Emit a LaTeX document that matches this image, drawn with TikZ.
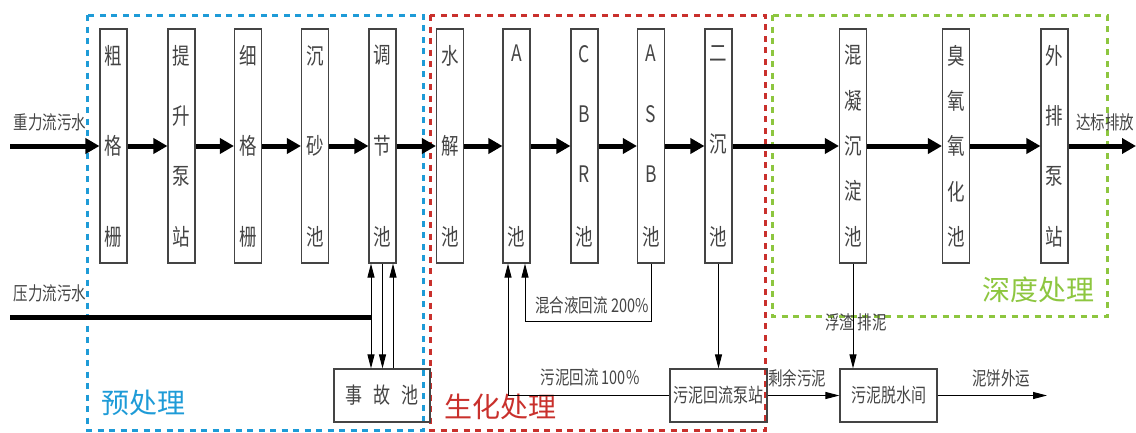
\documentclass[tikz,border=0pt]{standalone}
\usepackage{fontspec}
\setmainfont{Noto Sans CJK SC}
\usetikzlibrary{arrows.meta}
\definecolor{preblue}{HTML}{1E9BD7}
\definecolor{biored}{HTML}{C9302C}
\definecolor{deepgreen}{HTML}{8DC63F}
\definecolor{inkgray}{HTML}{444444}
\newcommand\tallt[1]{\scalebox{1}[1.3]{#1}}
\newcommand\vc[1]{\hbox to 24pt{\hss\tallt{#1}\hss}}
\begin{document}
\begin{tikzpicture}[x=1pt,y=-1pt,
  unitbox/.style={draw=inkgray,line width=1.1pt,minimum width=27pt,minimum height=234pt,inner sep=0pt,
    font=\fontsize{17.5}{17.5}\selectfont,text=inkgray},
  lowbox/.style={draw=inkgray,line width=1.1pt,minimum width=97pt,minimum height=53pt,inner sep=0pt,
    font=\fontsize{15}{15}\selectfont,text=inkgray},
  lbl/.style={font=\fontsize{14.5}{14.5}\selectfont,text=inkgray,inner sep=0pt},
  sect/.style={font=\fontsize{28}{28}\selectfont,inner sep=0pt},
  heavy/.style={line width=5pt,black,-{Triangle[length=14pt,width=15pt]}},
  heavyline/.style={line width=5pt,black},
  thinarrow/.style={line width=1pt,black,-{Triangle[length=14pt,width=7pt]}},
  zone/.style={line width=3pt,dash pattern=on 6pt off 5.5pt}
]
\useasboundingbox (0,0) rectangle (1136,432);

% zones
\draw[zone,preblue] (87,15) rectangle (423,430);
\draw[zone,biored] (430,15) rectangle (765,430);
\draw[zone,deepgreen] (772,15) rectangle (1107,316);

% unit boxes
\def\vtxt#1{\vbox to 200pt{#1}}
\node[unitbox] (b1) at (113.5,146) {\vtxt{\vc{粗}\vfill\vc{格}\vfill\vc{栅}}};
\node[unitbox] (b2) at (181.5,146) {\vtxt{\vc{提}\vfill\vc{升}\vfill\vc{泵}\vfill\vc{站}}};
\node[unitbox] (b3) at (248,146) {\vtxt{\vc{细}\vfill\vc{格}\vfill\vc{栅}}};
\node[unitbox] (b4) at (315,146) {\vtxt{\vc{沉}\vfill\vc{砂}\vfill\vc{池}}};
\node[unitbox] (b5) at (382.5,146) {\vtxt{\vc{调}\vfill\vc{节}\vfill\vc{池}}};
\node[unitbox] (b6) at (450,146) {\vtxt{\vc{水}\vfill\vc{解}\vfill\vc{池}}};
\node[unitbox] (b7) at (516.5,146) {\vtxt{\vc{A}\vfill\vc{池}}};
\node[unitbox] (b8) at (584.5,146) {\vtxt{\vc{C}\vfill\vc{B}\vfill\vc{R}\vfill\vc{池}}};
\node[unitbox] (b9) at (651,146) {\vtxt{\vc{A}\vfill\vc{S}\vfill\vc{B}\vfill\vc{池}}};
\node[unitbox] (b10) at (718.5,146) {\vtxt{\vc{二}\vfill\vc{沉}\vfill\vc{池}}};
\node[unitbox] (b11) at (853,146) {\vtxt{\vc{混}\vfill\vc{凝}\vfill\vc{沉}\vfill\vc{淀}\vfill\vc{池}}};
\node[unitbox] (b12) at (956,146) {\vtxt{\vc{臭}\vfill\vc{氧}\vfill\vc{氧}\vfill\vc{化}\vfill\vc{池}}};
\node[unitbox] (b13) at (1054.5,146) {\vtxt{\vc{外}\vfill\vc{排}\vfill\vc{泵}\vfill\vc{站}}};

% lower boxes
\node[lowbox,minimum width=96pt,font=\fontsize{17}{17}\selectfont] (acc) at (382,395.5) {\tallt{事\hspace{11pt}故\hspace{11pt}池}};
\node[lowbox] (pump) at (718.5,395.5) {\tallt{污泥回流泵站}};
\node[lowbox] (dew) at (888.5,395.5) {\tallt{污泥脱水间}};

% labels
\node[lbl] (tin1) at (50,122) {\tallt{重力流污水}};
\node[lbl] (tin2) at (50,293) {\tallt{压力流污水}};
\node[lbl] (tout) at (1105,122) {\tallt{达标排放}};
\node[lbl] (tmix) at (592,305) {\tallt{混合液回流 200\%}};
\node[lbl] (tret) at (590,377) {\tallt{污泥回流 100\%}};
\node[lbl] (tsur) at (797,378) {\tallt{剩余污泥}};
\node[lbl] (tscum) at (856,322) {\tallt{浮渣 排泥}};
\node[lbl] (tcake) at (1001,378) {\tallt{泥饼外运}};
\node[sect,text=preblue] (spre) at (143,403) {预处理};
\node[sect,text=biored] (sbio) at (500,407) {生化处理};
\node[sect,text=deepgreen] (sdeep) at (1038,290) {深度处理};

% main line
\coordinate (in1) at (10,146);
\coordinate (out1) at (1136,146);
\draw[heavy] (in1) -- (b1.west);
\draw[heavy] (b1.east) -- (b2.west);
\draw[heavy] (b2.east) -- (b3.west);
\draw[heavy] (b3.east) -- (b4.west);
\draw[heavy] (b4.east) -- (b5.west);
\draw[heavy] (b5.east) -- (b6.west);
\draw[heavy] (b6.east) -- (b7.west);
\draw[heavy] (b7.east) -- (b8.west);
\draw[heavy] (b8.east) -- (b9.west);
\draw[heavy] (b9.east) -- (b10.west);
\draw[heavy] (b10.east) -- (b11.west);
\draw[heavy] (b11.east) -- (b12.west);
\draw[heavy] (b12.east) -- (b13.west);
\draw[heavy] (b13.east) -- (out1);

% pressure flow and accident tank
\coordinate (in2) at (10,317);
\coordinate (j) at (371,317);
\draw[heavyline] (in2) -- (j);
\draw[thinarrow] (j) -- (j |- b5.south);
\draw[thinarrow] (j) -- (j |- acc.north);
\draw[thinarrow] (b5.south) -- (b5.south |- acc.north);
\coordinate (r5) at ([xshift=10.5pt]b5.south);
\draw[thinarrow] (r5 |- acc.north) -- (r5);

% returns
\coordinate (l7) at ([xshift=-8.5pt]b7.south);
\coordinate (r7) at ([xshift=8.5pt]b7.south);
\draw[thinarrow] (pump.west) -| (l7);
\draw[thinarrow] (b9.south) -- ++(0,58) -| (r7);
\draw[thinarrow] (b10.south) -- (b10.south |- pump.north);
\draw[thinarrow] (b11.south) -- (b11.south |- dew.north);
\draw[thinarrow] (pump.east) -- (dew.west);
\coordinate (out2) at (1047,395.5);
\draw[thinarrow] (dew.east) -- (out2);
\end{tikzpicture}
\end{document}
